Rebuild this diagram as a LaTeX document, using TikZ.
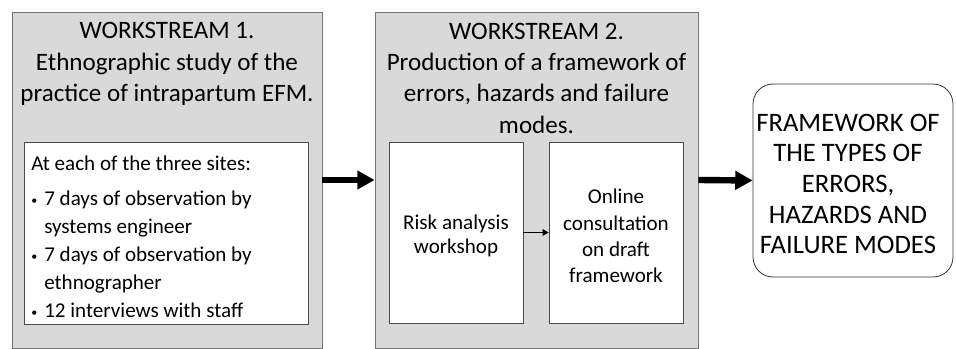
\documentclass[tikz,border=0pt]{standalone}
\usepackage{fontspec}
\setmainfont{Carlito}
\usetikzlibrary{arrows.meta}

\newcommand{\dotitem}{\makebox[9.75pt][l]{\raisebox{1pt}{\fontsize{9}{9}\selectfont\textbullet}}}

\begin{document}
\begin{tikzpicture}
                [
                    x=0.75pt,y=-0.75pt,
                    stream/.style={rectangle,fill=black!15,draw=black!55,line width=0.6pt,inner sep=0},
                    task/.style={rectangle,fill=white,draw=black!70,line width=0.6pt,inner sep=0,align=center,
                        font=\fontsize{15.8}{19.8}\selectfont},
                    head/.style={align=center,inner sep=0,font=\fontsize{18.8}{23.5}\selectfont},
                    result/.style={rectangle,rounded corners=15pt,draw=black!80,line width=0.6pt,fill=white,inner sep=0},
                    bigarrow/.style={-{Triangle[length=13pt,width=13.5pt]},line width=4.8pt},
                    smallarrow/.style={-{Triangle[length=4.5pt,width=5pt]},line width=0.9pt},
                ]
                \useasboundingbox (0,0) rectangle (956,349);
                % workstream 1
                \node[stream,minimum width=232.5pt,minimum height=252pt] (ws1) at (167,180) {};
                \node[head] (ws1title) at (167,64)
                    {WORKSTREAM 1.\\Ethnographic study of the\\practice of intrapartum EFM.};
                \node[task,minimum width=213pt,minimum height=136.5pt] (sites) at (166,233) {};
                \node[align=left,inner sep=0,anchor=west,font=\fontsize{15.8}{21}\selectfont] (sitelist) at (31,237)
                    {At each of the three sites:\\[5pt]
                     \dotitem 7 days of observation by\\
                     \hspace*{9.75pt}systems engineer\\
                     \dotitem 7 days of observation by\\
                     \hspace*{9.75pt}ethnographer\\
                     \dotitem 12 interviews with staff};
                % workstream 2
                \node[stream,minimum width=242.25pt,minimum height=252pt] (ws2) at (536.5,180) {};
                \node[head] (ws2title) at (536.5,78)
                    {WORKSTREAM 2.\\Production of a framework of\\errors, hazards and failure\\modes.};
                \node[task,minimum width=100.5pt,minimum height=135.75pt] (workshop) at (456,232.5) {};
                \node[align=center,inner sep=0,font=\fontsize{15.8}{17.5}\selectfont] (workshoptext) at (456,236)
                    {Risk analysis\\workshop};
                \node[task,minimum width=100.5pt,minimum height=135.75pt] (consult) at (616,232.5) {};
                \node[align=center,inner sep=0,font=\fontsize{15.8}{19.8}\selectfont] (consulttext) at (616,236)
                    {Online\\consultation\\on draft\\framework};
                % outcome
                \node[result,minimum width=150pt,minimum height=144.75pt] (frame) at (853,180.5) {};
                \node[align=center,inner sep=0,font=\fontsize{20}{23}\selectfont] (frametext) at (848,184)
                    {FRAMEWORK OF\\THE TYPES OF\\ERRORS,\\HAZARDS AND\\FAILURE MODES};
                \draw[bigarrow] (ws1.east) -- (ws2.west);
                \draw[bigarrow] (ws2.east) -- (frame.west);
                \draw[smallarrow] (workshop.east) -- (consult.west);
            \end{tikzpicture}
\end{document}
